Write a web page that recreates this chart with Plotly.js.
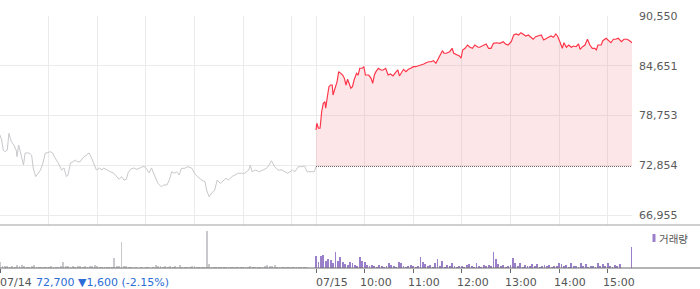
<!DOCTYPE html>
<html>
<head>
<meta charset="utf-8">
<script src="https://cdn.plot.ly/plotly-3.0.1.min.js"></script>
<style>
html,body{margin:0;padding:0;background:#fff;}
#chart{width:700px;height:289px;}
</style>
</head>
<body>
<div id="chart"></div>
<script>
// ---- data ----
const dateLabels = ['07/14', '07/15'];
const timeTickLabels = ['10:00', '11:00', '12:00', '13:00', '14:00', '15:00'];
const priceTicks = [66955, 72854, 78753, 84651, 90550];
const priceTickLabels = ['66,955', '72,854', '78,753', '84,651', '90,550'];
const prevClose = 72700;
const infoPrice = '72,700';
const infoChange = '▼1,600 (-2.15%)';

// minutes after 09:00 and prices, 07/14 (previous day)
const day1Minutes = [0,2,4,6,9,11,14,17,20,21,23,25,27,29,31,33,36,39,41,44,47,50,53,56,58,62,65,68,72,76,79,82,84,87,90,93,95,99,102,106,110,113,116,119,123,126,128,132,136,140,144,147,150,153,156,158,161,165,169,173,176,179,182,184,187,190,193,195,199,202,206,209,212,215,218,221,224,228,232,237,240,244,249,253,255,258,261,265,268,272,276,279,282,286,290,294,298,302,307,309,311,315,320,325,329,332,335,339,343,348,352,355,358,361,364,368,372,376,379,383,388,390];
const day1Prices = [76440,75850,74660,74460,74660,76640,75650,75250,74660,73870,75250,74460,73870,72880,74310,74310,74310,74070,72530,71500,71940,72290,73120,74310,74310,74460,74310,73710,73120,72290,72530,71500,71700,73120,73270,73480,73270,73270,73710,74070,74310,73710,72880,72290,72530,72290,72530,72290,72090,71940,71500,71190,71500,71100,71190,71940,72370,72530,72370,72530,72680,72680,72290,71940,72530,71700,71100,70710,70310,70510,70510,71100,72090,71900,72090,71700,72490,72490,72680,72490,71900,71500,71100,70900,69920,69120,69530,69920,71100,70710,71100,71310,71100,71500,71700,71900,71900,71900,72290,72880,72090,72290,72090,72290,72490,72880,73390,72680,72290,72290,72090,71900,72090,72290,72090,72680,72680,72760,72090,72090,72090,72700];

// minutes after 09:00 and prices, 07/15 (today)
const day2Minutes = [0,1,3,5,7,9,11,12,14,16,18,20,21,23,26,28,31,33,35,37,39,41,43,45,47,50,52,54,57,59,61,65,68,70,72,74,77,80,83,86,89,92,95,99,101,103,106,108,111,114,117,120,123,126,130,133,136,139,142,145,148,150,153,156,158,161,165,168,170,174,177,179,181,184,187,190,193,196,200,202,207,210,213,216,219,223,227,231,234,237,241,244,247,250,253,256,259,262,265,268,271,274,278,281,284,287,290,293,296,298,301,304,306,309,312,315,318,321,324,326,329,332,335,338,341,344,346,348,352,354,358,361,364,367,370,373,377,380,384,387,390];
const day2Prices = [77030,77830,77240,77240,79200,80200,80390,79610,80980,82170,82370,82370,81180,81780,82760,83950,83760,83550,83160,82370,83050,82370,81980,82170,82960,83760,83550,84350,84350,84540,83550,83550,83160,82570,83550,83950,84350,84150,84150,84350,83550,83670,83440,83950,84150,83440,83950,84230,83950,84230,84350,84540,84540,84620,84740,84860,85010,85130,85130,85250,84940,85330,85720,86440,86130,86130,86320,86720,86130,85930,85810,85540,86520,86720,87110,86840,86720,87110,86840,86840,87110,87230,86720,86720,87310,87380,87310,87500,87230,87110,87500,88300,88420,88300,88570,88420,88180,88300,88020,87790,88100,88180,88300,87700,87910,88020,88180,88020,88420,88180,87500,86720,87380,86840,87110,86840,86990,86910,87230,86600,86910,87110,87790,87110,86720,86720,86520,87110,87110,87620,87910,87620,87380,87790,87790,87910,87500,87790,87790,87620,87380];

// volume (thousand shares) per 3-minute bucket
const day1Volume = [6,2,2,2,1,2,1,3,2,3, 2,1,1,2,3,1,1,1,1,1, 1,2,1,1,1,2,6,2,2,1, 2,1,2,2,1,2,1,2,2,3, 2,1,1,1,1,1,1,10,2,2, 26,2,2,1,1,0.5,1,0.5,1,0.5, 1,1,0.5,1,3,2,2,1,2,1, 2,1,2,1,3,1,1,1,1,2, 2,1,1,1,1,37,4,1,1,1, 1,1,1,1,1,1,1,1,1,1, 1,1,1,2,1,1,1,1,1,2, 3,2,2,3,1,1,1,1,1,1, 1,1,1,1,1,1,1,0,0,0];
const day2Volume = [12,6,12,13,7,9,8,5,16,7, 11,6,4,3,6,5,3,2,11,7, 6,3,2,3,2,1,3,2,1,2, 5,3,2,1,6,5,2,1,2,3, 2,1,2,11,6,4,2,3,1,5, 9,2,7,1,3,2,5,2,1,2, 2,1,3,4,2,1,5,2,1,3, 2,3,2,16,9,4,2,3,1,2, 3,10,5,2,5,1,3,2,2,4, 2,4,1,2,3,2,3,1,2,2, 5,4,2,3,1,5,2,2,1,5, 2,4,1,2,2,1,5,2,4,2, 5,2,1,3,2,4,0,0,0,0, 21];

// ---- layout constants ----
const W = 700, H = 289;
const mL = 0, mR = 68, mT = 16, mB = 21;
const plotW = W - mL - mR, plotH = H - mT - mB;
const dayLen = 390;
const bucket = 3;
const pxX = px => px / plotW;
const pxY = py => (H - mB - py) / plotH;

const gray = '#c9c9cd', red = '#ff3347', purple = '#9a7fca', blue = '#2b6dd6', txt = '#555';

const x1 = day1Minutes.slice();
const x2 = day2Minutes.map(m => m + dayLen);
const vx1 = day1Volume.map((v, i) => i * bucket);
const vx2 = day2Volume.map((v, i) => dayLen + i * bucket);

const traces = [
  {x: x1, y: day1Prices, type: 'scatter', mode: 'lines', line: {color: gray, width: 1}, xaxis: 'x', yaxis: 'y'},
  {x: [dayLen, 2 * dayLen], y: [prevClose, prevClose], type: 'scatter', mode: 'lines',
   line: {color: '#666', width: 1, dash: '1px,1px'}, xaxis: 'x', yaxis: 'y'},
  {x: x2, y: day2Prices, type: 'scatter', mode: 'lines', line: {color: red, width: 1.15},
   fill: 'tonexty', fillcolor: 'rgba(245,130,140,0.2)', xaxis: 'x', yaxis: 'y'},
  {x: vx1, y: day1Volume, type: 'bar', width: 2.3, marker: {color: gray, line: {width: 0}}, xaxis: 'x2', yaxis: 'y2'},
  {x: vx2, y: day2Volume, type: 'bar', width: 2.3, marker: {color: purple, line: {width: 0}}, xaxis: 'x2', yaxis: 'y2'}
];

const gridVals = [0, 60, 120, 180, 240, 300, 360, 390, 450, 510, 570, 630, 690, 750];
const tickVals2 = [0, 390, 450, 510, 570, 630, 690, 750];
const priceDomainBottom = pxY(225);

const annotations = [];
const labY = pxY(282);
const labFont = {family: 'DejaVu Sans', size: 11, color: txt};
annotations.push({xref: 'x2', yref: 'paper', x: 0, y: labY, text: dateLabels[0], showarrow: false,
  xanchor: 'left', yanchor: 'middle', xshift: -2, font: labFont});
annotations.push({xref: 'x2', yref: 'paper', x: dayLen, y: labY, text: dateLabels[1], showarrow: false,
  xanchor: 'left', yanchor: 'middle', xshift: -2, font: labFont});
timeTickLabels.forEach((t, i) => {
  annotations.push({xref: 'x2', yref: 'paper', x: dayLen + 60 * (i + 1), y: labY, text: t, showarrow: false,
    xanchor: 'left', yanchor: 'middle', xshift: -7, font: labFont});
});
annotations.push({xref: 'paper', yref: 'paper', x: pxX(34), y: labY, text: infoPrice + ' ' + infoChange, showarrow: false,
  xanchor: 'left', yanchor: 'middle', font: {family: 'DejaVu Sans', size: 11, color: blue}});
annotations.push({xref: 'paper', yref: 'paper', x: pxX(657), y: pxY(238.5), text: '거래량', showarrow: false,
  xanchor: 'left', yanchor: 'middle', font: {family: 'Noto Sans CJK KR', size: 10.5, color: txt}});

const shapes = [
  {type: 'line', xref: 'paper', yref: 'paper', x0: 0, x1: W / plotW, y0: priceDomainBottom, y1: priceDomainBottom,
   line: {color: '#a0a0a0', width: 1}},
  {type: 'line', xref: 'paper', yref: 'paper', x0: 0, x1: W / plotW, y0: 0, y1: 0,
   line: {color: '#6a6a6a', width: 1}},
  {type: 'rect', xref: 'paper', yref: 'paper', x0: pxX(652.5), x1: pxX(655.5), y0: pxY(242), y1: pxY(234),
   fillcolor: purple, line: {width: 0}}
];

const layout = {
  width: W, height: H,
  margin: {l: mL, r: mR, t: mT, b: mB, pad: 0},
  paper_bgcolor: '#fff', plot_bgcolor: '#fff',
  showlegend: false, hovermode: false, bargap: 0,
  font: {family: 'DejaVu Sans', size: 11, color: txt},
  xaxis: {domain: [0, 1], anchor: 'y', range: [0, 2 * dayLen], showticklabels: false, ticks: '',
    tickmode: 'array', tickvals: gridVals, showgrid: true, gridcolor: '#ebebeb', gridwidth: 1,
    zeroline: false, showline: false, fixedrange: true},
  yaxis: {domain: [priceDomainBottom, 1], anchor: 'x', side: 'right', range: [65769, 90550],
    tickmode: 'array', tickvals: priceTicks, ticktext: priceTickLabels, ticks: '', ticklabelstandoff: 6,
    showgrid: true, gridcolor: '#ebebeb', gridwidth: 1, zeroline: false, showline: false,
    tickfont: {family: 'DejaVu Sans', size: 11, color: '#5a5a5a'}, fixedrange: true},
  xaxis2: {domain: [0, 1], anchor: 'y2', range: [0, 2 * dayLen], tickmode: 'array', tickvals: tickVals2,
    ticks: 'outside', ticklen: 4, tickwidth: 1, tickcolor: '#6a6a6a', showticklabels: false,
    showgrid: false, zeroline: false, showline: false, fixedrange: true},
  yaxis2: {domain: [0, pxY(226)], anchor: 'x2', range: [0, 42], visible: false, showgrid: false,
    zeroline: false, fixedrange: true},
  annotations: annotations,
  shapes: shapes
};

Plotly.newPlot('chart', traces, layout, {displayModeBar: false, staticPlot: true});
</script>
</body>
</html>
